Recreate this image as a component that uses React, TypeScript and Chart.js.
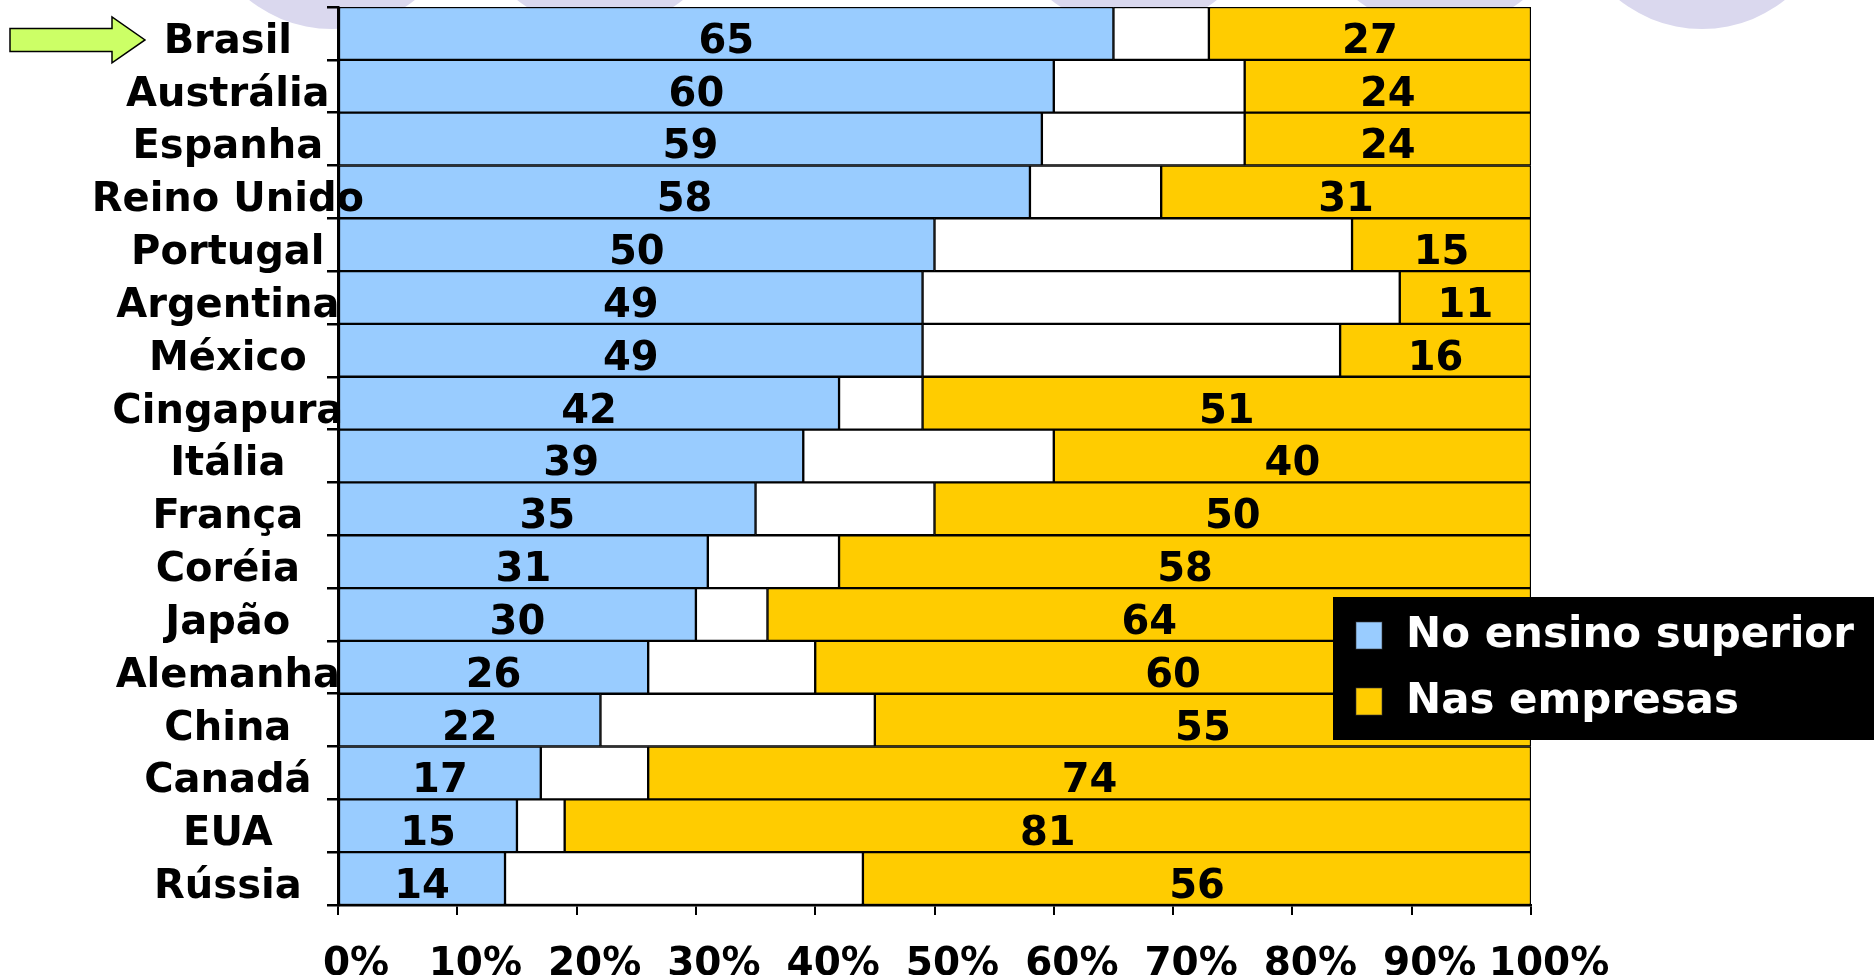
import React, { useEffect, useRef } from 'react';
import { Chart, registerables } from 'chart.js';

Chart.register(...registerables);

const countries = [
  'Brasil', 'Austrália', 'Espanha', 'Reino Unido', 'Portugal', 'Argentina', 'México',
  'Cingapura', 'Itália', 'França', 'Coréia', 'Japão', 'Alemanha', 'China', 'Canadá', 'EUA', 'Rússia',
];
const ensinoSuperior = [65, 60, 59, 58, 50, 49, 49, 42, 39, 35, 31, 30, 26, 22, 17, 15, 14];
const outros = [8, 16, 17, 11, 35, 40, 35, 7, 21, 15, 11, 6, 14, 23, 9, 4, 30];
const empresas = [27, 24, 24, 31, 15, 11, 16, 51, 40, 50, 58, 64, 60, 55, 74, 81, 56];
const xTickValues = [0, 10, 20, 30, 40, 50, 60, 70, 80, 90, 100];

const FONT = '"DejaVu Sans", Verdana, sans-serif';

const backgroundCircles = {
  id: 'backgroundCircles',
  beforeDraw(chart: any) {
    const ctx = chart.ctx;
    ctx.save();
    ctx.fillStyle = '#DAD8EE';
    [332, 600, 1134, 1440, 1702].forEach((cx) => {
      ctx.beginPath();
      ctx.arc(cx, -104, 133, 0, Math.PI * 2);
      ctx.fill();
    });
    ctx.restore();
  },
};

const valueLabels = {
  id: 'valueLabels',
  afterDatasetsDraw(chart: any) {
    const ctx = chart.ctx;
    ctx.save();
    ctx.font = `bold 40px ${FONT}`;
    ctx.fillStyle = '#000';
    ctx.textAlign = 'center';
    ctx.textBaseline = 'middle';
    chart.data.datasets.forEach((ds: any, i: number) => {
      if (!ds.showValues) return;
      chart.getDatasetMeta(i).data.forEach((el: any, j: number) => {
        const { x, y, base } = el.getProps(['x', 'y', 'base'], true);
        ctx.fillText(String(ds.data[j]), (x + base) / 2, y + 9);
      });
    });
    ctx.restore();
  },
};

const boxLegend = {
  id: 'boxLegend',
  afterDraw(chart: any) {
    const ctx = chart.ctx;
    const area = chart.chartArea;
    const left = area.right - 198;
    const top = 597;
    ctx.save();
    ctx.fillStyle = '#000';
    ctx.fillRect(left, top, chart.width - left, 143);
    const items = chart.data.datasets.filter((d: any) => d.inLegend);
    ctx.font = `bold 42px ${FONT}`;
    ctx.textAlign = 'left';
    ctx.textBaseline = 'middle';
    items.forEach((d: any, k: number) => {
      const cy = top + 38 + k * 66;
      ctx.fillStyle = d.backgroundColor;
      ctx.fillRect(left + 23, cy - 13, 26, 27);
      ctx.strokeStyle = 'rgba(60,60,60,0.6)';
      ctx.lineWidth = 1;
      ctx.strokeRect(left + 23, cy - 13, 26, 27);
      ctx.fillStyle = '#fff';
      ctx.fillText(d.label, left + 73, cy + 1);
    });
    ctx.restore();
  },
};

const arrowMarker = {
  id: 'arrowMarker',
  afterDraw(chart: any) {
    const ctx = chart.ctx;
    const y = chart.scales.y.getPixelForValue(0) + 6.5;
    const x0 = 10;
    const xb = 112;
    const xt = 145;
    ctx.save();
    ctx.beginPath();
    ctx.moveTo(x0, y - 11.5);
    ctx.lineTo(xb, y - 11.5);
    ctx.lineTo(xb, y - 23);
    ctx.lineTo(xt, y);
    ctx.lineTo(xb, y + 23);
    ctx.lineTo(xb, y + 11.5);
    ctx.lineTo(x0, y + 11.5);
    ctx.closePath();
    ctx.fillStyle = '#CCFF66';
    ctx.fill();
    ctx.strokeStyle = '#000';
    ctx.lineWidth = 1.5;
    ctx.stroke();
    ctx.restore();
  },
};

export default function App() {
  const ref = useRef<HTMLCanvasElement | null>(null);

  useEffect(() => {
    document.body.style.margin = '0';
    document.body.style.overflow = 'hidden';
    if (!ref.current) return;
    Chart.defaults.font.family = FONT;
    const chart = new Chart(ref.current, {
      type: 'bar',
      data: {
        labels: countries,
        datasets: [
          {
            label: 'No ensino superior',
            data: ensinoSuperior,
            backgroundColor: '#99CCFF',
            borderColor: '#000',
            borderWidth: 1.5,
            borderSkipped: false,
            barPercentage: 1,
            categoryPercentage: 1,
            showValues: true,
            inLegend: true,
          } as any,
          {
            label: 'Outros',
            data: outros,
            backgroundColor: '#FFFFFF',
            borderColor: '#000',
            borderWidth: 1.5,
            borderSkipped: false,
            barPercentage: 1,
            categoryPercentage: 1,
            showValues: false,
            inLegend: false,
          } as any,
          {
            label: 'Nas empresas',
            data: empresas,
            backgroundColor: '#FFCC00',
            borderColor: '#000',
            borderWidth: 1.5,
            borderSkipped: false,
            barPercentage: 1,
            categoryPercentage: 1,
            showValues: true,
            inLegend: true,
          } as any,
        ],
      },
      options: {
        indexAxis: 'y',
        responsive: false,
        animation: false,
        devicePixelRatio: 1,
        layout: { padding: { left: 0, right: 343, top: 7, bottom: 0 } },
        scales: {
          x: {
            type: 'linear',
            stacked: true,
            min: 0,
            max: 100,
            afterBuildTicks: (s: any) => {
              s.ticks = xTickValues.map((v) => ({ value: v }));
            },
            afterFit: (s: any) => {
              s.height = 70;
            },
            ticks: {
              callback: (v: any) => `${v}%`,
              font: { size: 39, weight: 'bold' },
              color: '#000',
              padding: 26,
              labelOffset: 18,
              maxRotation: 0,
              autoSkip: false,
            },
            grid: { drawOnChartArea: false, drawTicks: true, tickLength: 10, color: '#000', lineWidth: 2 },
            border: { display: true, color: '#000', width: 2.5 },
          },
          y: {
            type: 'category',
            stacked: true,
            offset: true,
            afterFit: (s: any) => {
              s.width = 338;
              // let long category names run over the plot edge, as in the original
              s._computeLabelArea = () => undefined;
            },
            ticks: {
              z: 1,
              crossAlign: 'center',
              padding: -37,
              labelOffset: 9,
              font: { size: 40, weight: 'bold' },
              color: '#000',
              autoSkip: false,
            },
            grid: { offset: true, drawOnChartArea: false, drawTicks: true, tickLength: 11, color: '#000', lineWidth: 2.5 },
            border: { display: true, color: '#000', width: 2.5 },
          },
        },
        plugins: {
          legend: { display: false },
          tooltip: { enabled: false },
        },
      } as any,
      plugins: [backgroundCircles, valueLabels, boxLegend, arrowMarker],
    });
    return () => chart.destroy();
  }, []);

  return <canvas ref={ref} width={1874} height={975} style={{ display: 'block' }} />;
}
